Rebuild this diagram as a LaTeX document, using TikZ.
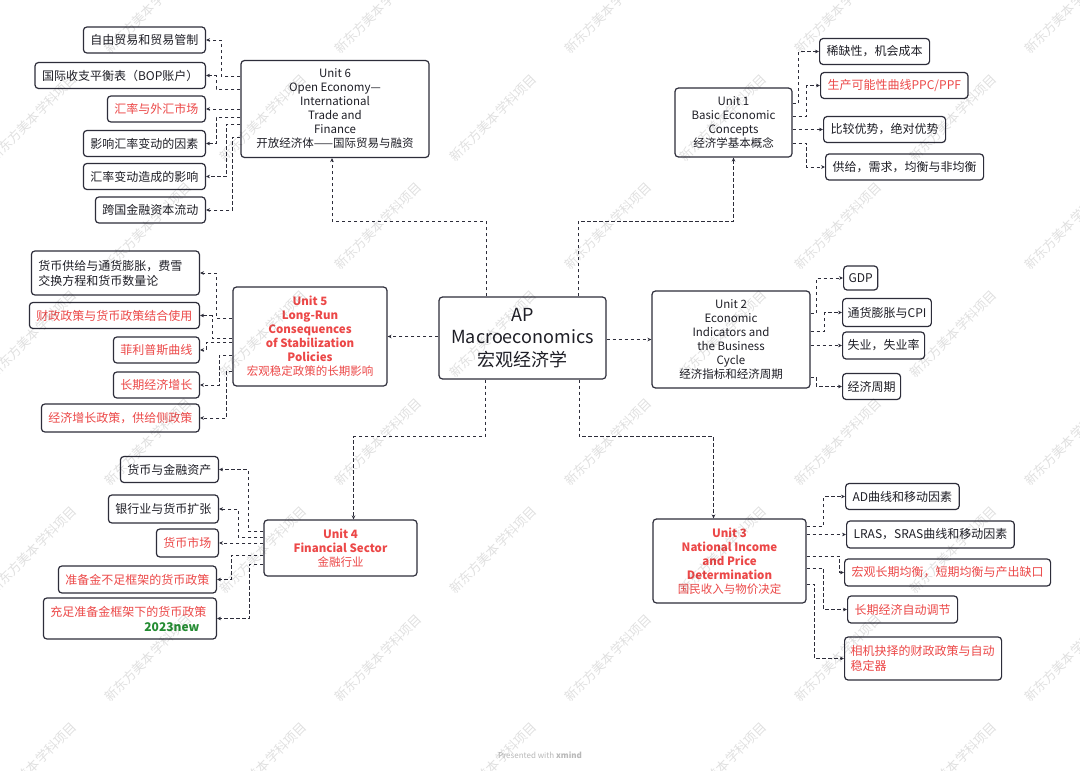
\documentclass[tikz,border=0pt]{standalone}
\usepackage{fontspec}
\setmainfont{Noto Sans CJK SC}
\usepackage{xcolor}
\usetikzlibrary{arrows.meta}

\definecolor{boxline}{RGB}{45,45,58}
\definecolor{ink}{RGB}{30,30,38}
\definecolor{hotred}{RGB}{236,72,72}
\definecolor{newgreen}{RGB}{36,140,50}

\begin{document}
\begin{tikzpicture}[x=1pt,y=-1pt,
    box/.style={draw=boxline,line width=1.2pt,rounded corners=3.5pt,fill=white,text=ink},
    unit/.style={box,align=center,font=\fontsize{11.5}{14}\selectfont,inner sep=0pt},
    leaf/.style={box,font=\fontsize{12}{15}\selectfont,inner xsep=7pt,inner ysep=0pt,minimum height=26pt},
    hot/.style={text=hotred},
    link/.style={draw=boxline,line width=0.9pt,dash pattern=on 3.5pt off 2.5pt,
      -{Stealth[length=4pt,width=3.6pt]}},
    wm/.style={rotate=45,text=black,text opacity=0.12,font=\fontsize{13}{13}\selectfont}
  ]
  \fill[white] (0,0) rectangle (1080,771);
  \useasboundingbox (0,0) rectangle (1080,771);

  % 中心
  \node[box,align=center,font=\fontsize{18}{22.5}\selectfont,
    minimum width=167pt,minimum height=82pt,inner sep=0pt] (main) at (522.5,338)
    {AP\\Macroeconomics\\宏观经济学};

  % Unit 6
  \node[unit,minimum width=188pt,minimum height=97pt] (u6) at (335,109)
    {Unit 6\\Open Economy—\\International\\Trade and\\Finance\\开放经济体——国际贸易与融资};
  \node[leaf,anchor=east] (l61) at (206,40) {自由贸易和贸易管制};
  \node[leaf,anchor=east] (l62) at (206,75.5) {国际收支平衡表（BOP账户）};
  \node[leaf,anchor=east,hot] (l63) at (206,109) {汇率与外汇市场};
  \node[leaf,anchor=east] (l64) at (206,143.5) {影响汇率变动的因素};
  \node[leaf,anchor=east] (l65) at (206,176.5) {汇率变动造成的影响};
  \node[leaf,anchor=east] (l66) at (206,210) {跨国金融资本流动};

  % Unit 1
  \node[unit,minimum width=117pt,minimum height=69pt] (u1) at (733.5,122.5)
    {Unit 1\\Basic Economic\\Concepts\\经济学基本概念};
  \node[leaf,anchor=west] (l11) at (819,51.5) {稀缺性，机会成本};
  \node[leaf,anchor=west,hot] (l12) at (820,85.5) {生产可能性曲线PPC/PPF};
  \node[leaf,anchor=west] (l13) at (823,129.5) {比较优势，绝对优势};
  \node[leaf,anchor=west] (l14) at (825,167) {供给，需求，均衡与非均衡};

  % Unit 2
  \node[unit,minimum width=158pt,minimum height=97pt] (u2) at (731,339.5)
    {Unit 2\\Economic\\Indicators and\\the Business\\Cycle\\经济指标和经济周期};
  \node[leaf,anchor=west,minimum height=24pt,inner xsep=5pt] (l21) at (843,278) {GDP};
  \node[leaf,anchor=west,inner xsep=5pt,minimum height=28pt] (l22) at (842,312.5) {通货膨胀与CPI};
  \node[leaf,anchor=west,inner xsep=5pt,minimum height=27pt] (l23) at (842,345.5) {失业，失业率};
  \node[leaf,anchor=west,inner xsep=5pt] (l24) at (842,386.5) {经济周期};

  % Unit 5
  \node[unit,hot,minimum width=154pt,minimum height=99pt] (u5) at (310,336.5)
    {\textbf{Unit 5}\\\textbf{Long-Run}\\\textbf{Consequences}\\\textbf{of Stabilization}\\\textbf{Policies}\\宏观稳定政策的长期影响};
  \node[leaf,anchor=east,text width=154pt,align=left,minimum height=44pt] (l51) at (200,273)
    {货币供给与通货膨胀，费雪\\交换方程和货币数量论};
  \node[leaf,anchor=east,hot] (l52) at (200,315.5) {财政政策与货币政策结合使用};
  \node[leaf,anchor=east,hot] (l53) at (200,350) {菲利普斯曲线};
  \node[leaf,anchor=east,hot] (l54) at (200,385) {长期经济增长};
  \node[leaf,anchor=east,hot,minimum height=28pt] (l55) at (200,418) {经济增长政策，供给侧政策};

  % Unit 4
  \node[unit,hot,minimum width=153pt,minimum height=56pt] (u4) at (340.5,548)
    {\textbf{Unit 4}\\\textbf{Financial Sector}\\金融行业};
  \node[leaf,anchor=east] (l41) at (219,469.5) {货币与金融资产};
  \node[leaf,anchor=east,minimum height=28pt] (l42) at (219,509) {银行业与货币扩张};
  \node[leaf,anchor=east,hot,minimum height=28pt] (l43) at (219,543) {货币市场};
  \node[leaf,anchor=east,hot,minimum height=27pt] (l44) at (217,579.5) {准备金不足框架的货币政策};
  \node[leaf,anchor=east,hot,text width=159pt,align=left,minimum height=41pt,inner xsep=7pt] (l45) at (217,618.5)
    {充足准备金框架下的货币政策\\\hspace*{94pt}\textcolor{newgreen}{\textbf{2023new}}};

  % Unit 3
  \node[unit,hot,minimum width=153pt,minimum height=84pt] (u3) at (729.5,561)
    {\textbf{Unit 3}\\\textbf{National Income}\\\textbf{and Price}\\\textbf{Determination}\\国民收入与物价决定};
  \node[leaf,anchor=west] (l31) at (845,496.5) {AD曲线和移动因素};
  \node[leaf,anchor=west,minimum height=27pt] (l32) at (846,534.5) {LRAS，SRAS曲线和移动因素};
  \node[leaf,anchor=west,hot,minimum height=27pt] (l33) at (844,572.5) {宏观长期均衡，短期均衡与产出缺口};
  \node[leaf,anchor=west,hot,minimum height=27pt] (l34) at (847,609.5) {长期经济自动调节};
  \node[leaf,anchor=west,hot,text width=145pt,align=left,minimum height=43pt,inner xsep=6pt] (l35) at (844,658.5)
    {相机抉择的财政政策与自动\\稳定器};

  % 中心から各Unitへ
  \draw[link] ([xshift=-36.5pt]main.north) -- ++(0,-75) -| ([xshift=-3pt]u6.south);
  \draw[link] ([xshift=55.5pt]main.north) -- ++(0,-75) -| (u1.south);
  \draw[link] (main.west |- u5.east) -- (u5.east);
  \draw[link] (main.east |- u2.west) -- (u2.west);
  \draw[link] ([xshift=-37.5pt]main.south) -- ++(0,57) -| ([xshift=13pt]u4.north);
  \draw[link] ([xshift=56.5pt]main.south) -- ++(0,57) -| ([xshift=-16pt]u3.north);

  % Unit 6 の枝
  \draw[link] ([yshift=33pt]u6.west) -- ++(-19,0) |- (l61.east);
  \draw[link] ([yshift=20pt]u6.west) -- ++(-24,0) |- (l62.east);
  \draw[link] (u6.west |- l63.east) -- (l63.east);
  \draw[link] ([yshift=-8pt]u6.west) -- ++(-24,0) |- (l64.east);
  \draw[link] ([yshift=-15pt]u6.west) -- ++(-14,0) |- (l65.east);
  \draw[link] ([yshift=-28pt]u6.west) -- ++(-8,0) |- (l66.east);

  % Unit 1 の枝
  \draw[link] ([yshift=19.5pt]u1.east) -- ++(6,0) |- (l11.west);
  \draw[link] ([yshift=6.5pt]u1.east) -- ++(14,0) |- (l12.west);
  \draw[link] (u1.east |- l13.west) -- (l13.west);
  \draw[link] ([yshift=-20.5pt]u1.east) -- ++(14,0) |- (l14.west);

  % Unit 2 の枝
  \draw[link] ([yshift=26.5pt]u2.east) -- ++(6,0) |- (l21.west);
  \draw[link] ([yshift=8.5pt]u2.east) -- ++(14,0) |- (l22.west);
  \draw[link] (u2.east |- l23.west) -- (l23.west);
  \draw[link] ([yshift=-37.5pt]u2.east) -- ++(6,0) |- (l24.west);

  % Unit 5 の枝
  \draw[link] ([yshift=18.5pt]u5.west) -- ++(-16,0) |- (l51.east);
  \draw[link] ([yshift=-1.5pt]u5.west) -- ++(-20,0) |- (l52.east);
  \draw[link] ([yshift=-5.5pt]u5.west) -- ++(-26,0) |- (l53.east);
  \draw[link] ([yshift=-18.5pt]u5.west) -- ++(-13,0) |- (l54.east);
  \draw[link] ([yshift=-34.5pt]u5.west) -- ++(-6,0) |- (l55.east);

  % Unit 4 の枝
  \draw[link] ([yshift=17pt]u4.west) -- ++(-15,0) |- (l41.east);
  \draw[link] ([yshift=11pt]u4.west) -- ++(-25,0) |- (l42.east);
  \draw[link] (u4.west |- l43.east) -- (l43.east);
  \draw[link] ([yshift=-7pt]u4.west) -- ++(-32,0) |- (l44.east);
  \draw[link] ([yshift=-16pt]u4.west) -- ++(-14,0) |- (l45.east);

  % Unit 3 の枝
  \draw[link] ([yshift=35pt]u3.east) -- ++(17,0) |- (l31.west);
  \draw[link] (u3.east |- l32.west) -- (l32.west);
  \draw[link] ([yshift=5pt]u3.east) -- ++(33,0) |- (l33.west);
  \draw[link] ([yshift=-7pt]u3.east) -- ++(17,0) |- (l34.west);
  \draw[link] ([yshift=-23pt]u3.east) -- ++(8,0) |- (l35.west);

  % 透かし
  \node[text=black!28,font=\fontsize{8}{8}\selectfont] (credit) at (540,755) {Presented with \textbf{xmind}};
  \begin{scope}
    \clip (0,0) rectangle (1080,771);
    \foreach \r in {0,...,7}
      \foreach \k in {-1,...,4}
        \node[wm] at ({148+115*mod(\r,2)+230*\k},{10+108*\r}) {新东方美本学科项目};
  \end{scope}

\end{tikzpicture}
\end{document}
